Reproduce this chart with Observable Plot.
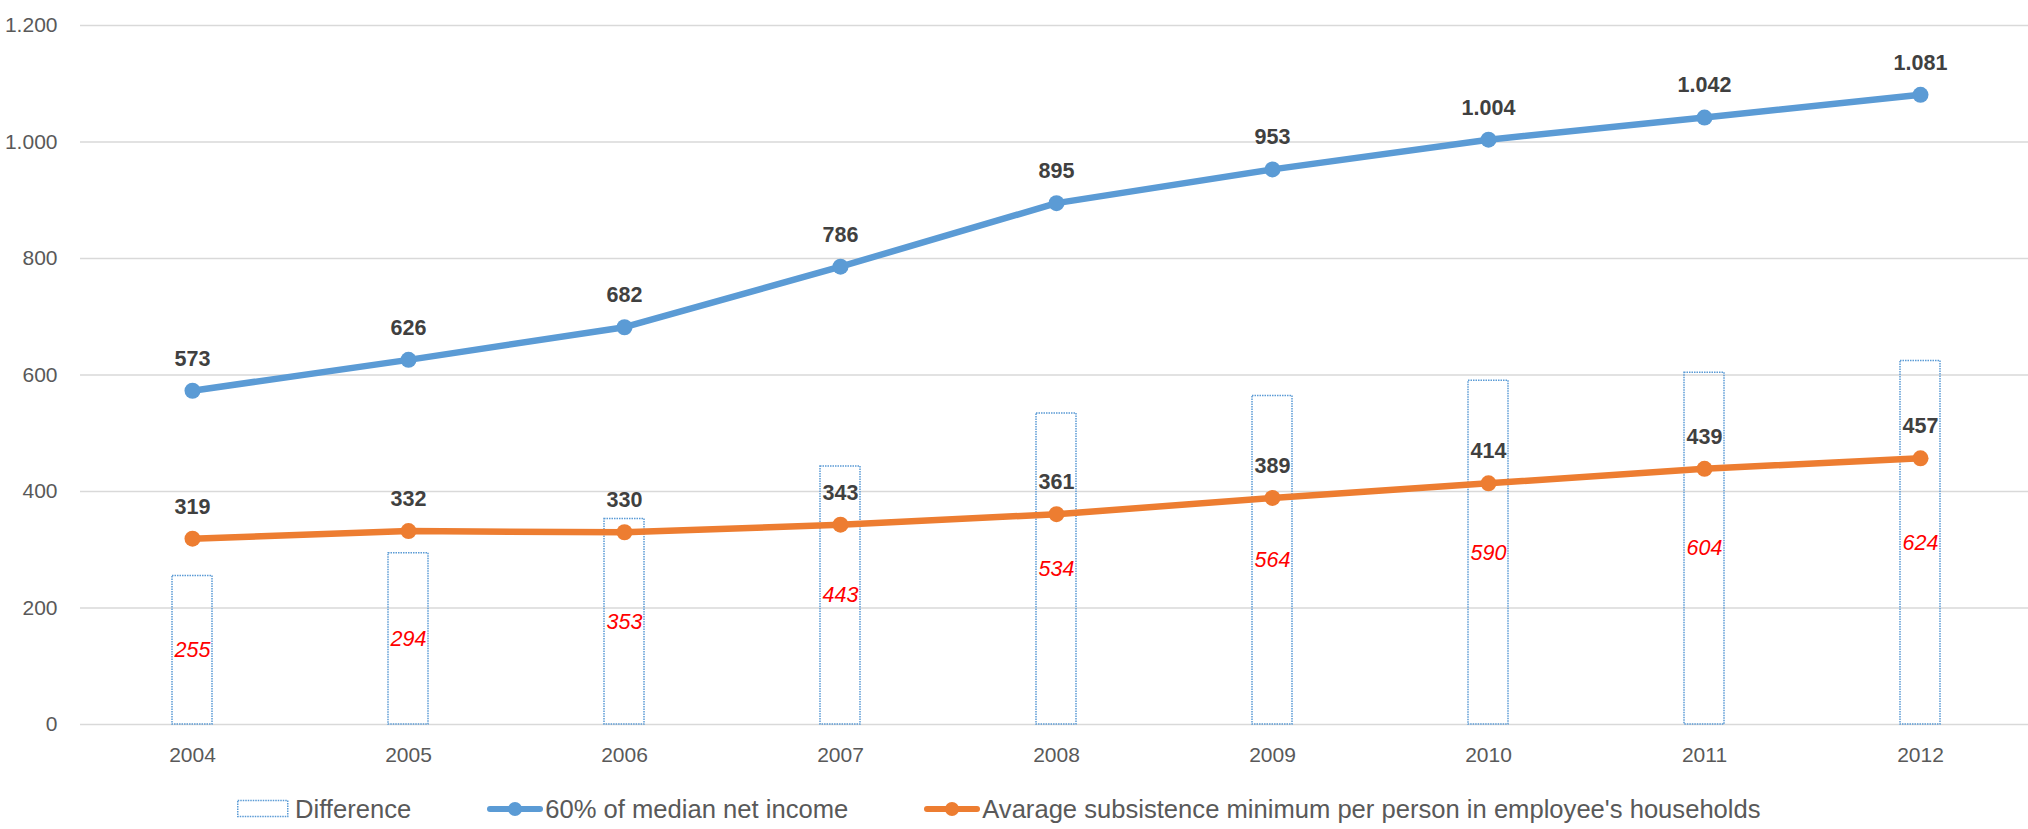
<!DOCTYPE html>
<html>
<head>
<meta charset="utf-8">
<script src="https://cdn.jsdelivr.net/npm/d3@7"></script>
<script src="https://cdn.jsdelivr.net/npm/@observablehq/plot@0.6"></script>
<style>
  html, body { margin: 0; padding: 0; background: #fff; overflow: hidden; }
  #chart svg { display: block; }
  .legend {
    height: 54px; box-sizing: border-box; padding: 14px 0 0 237px;
    display: flex; align-items: center; gap: 76px;
    font-family: "Liberation Sans", Arial, sans-serif; font-size: 25.6px; color: #595959;
  }
  .legend .item { display: flex; align-items: center; white-space: nowrap; }
  .legend svg { display: block; }
</style>
</head>
<body>
<div id="chart"></div>
<div class="legend" id="legend"></div>
<script>
// Monthly amounts per year
const years = ["2004", "2005", "2006", "2007", "2008", "2009", "2010", "2011", "2012"];
const medianIncome60 = [573, 626, 682, 786, 895, 953, 1004, 1042, 1081];
const subsistenceMin = [319, 332, 330, 343, 361, 389, 414, 439, 457];
const difference = [255, 294, 353, 443, 534, 564, 590, 604, 624];
const yTicks = [0, 200, 400, 600, 800, 1000, 1200];

const seriesNames = ["Difference", "60% of median net income", "Avarage subsistence minimum per person in employee's households"];
const blue = "#5B9BD5";
const orange = "#ED7D31";

const locale = d3.formatLocale({decimal: ",", thousands: ".", grouping: [3], currency: ["", ""]});
const fmt = locale.format(",d");

const rows = years.map((year, i) => ({
  year,
  income: medianIncome60[i],
  subsistence: subsistenceMin[i],
  diff: difference[i]
}));

const chart = Plot.plot({
  width: 2028,
  height: 775,
  marginTop: 25,
  marginBottom: 51,
  marginLeft: 80,
  marginRight: 0,
  style: {fontFamily: "'Liberation Sans', Arial, sans-serif", fontSize: "21px", color: "#595959", background: "#fff"},
  x: {type: "band", domain: years, range: [80, 2032], paddingInner: 0.8156, paddingOuter: 0.4078, label: null},
  y: {domain: [0, 1200], label: null},
  marks: [
    Plot.ruleY(yTicks, {stroke: "#D9D9D9", strokeWidth: 1.5}),
    Plot.axisY({ticks: yTicks, tickSize: 0, tickPadding: 23, tickFormat: fmt, fontSize: 21, label: null}),
    Plot.axisX({tickSize: 0, tickPadding: 23, fontSize: 21, label: null}),
    Plot.barY(rows, {x: "year", y: "diff", fill: "none", stroke: blue, strokeWidth: 1.5, strokeDasharray: "1.5,1"}),
    Plot.text(rows, {x: "year", y: d => d.diff / 2, text: d => fmt(d.diff), fill: "#FF0000", fontStyle: "italic", fontSize: 21.5, lineAnchor: "middle"}),
    Plot.line(rows, {x: "year", y: "income", stroke: blue, strokeWidth: 6.5, strokeLinejoin: "round"}),
    Plot.line(rows, {x: "year", y: "subsistence", stroke: orange, strokeWidth: 6.5, strokeLinejoin: "round"}),
    Plot.dot(rows, {x: "year", y: "income", r: 8, fill: blue}),
    Plot.dot(rows, {x: "year", y: "subsistence", r: 8, fill: orange}),
    Plot.text(rows, {x: "year", y: "income", text: d => fmt(d.income), dy: -32, lineAnchor: "middle", fill: "#404040", fontWeight: "bold", fontSize: 21.5}),
    Plot.text(rows, {x: "year", y: "subsistence", text: d => fmt(d.subsistence), dy: -32, lineAnchor: "middle", fill: "#404040", fontWeight: "bold", fontSize: 21.5})
  ]
});
document.getElementById("chart").append(chart);

// Legend below the plot
const legend = d3.select("#legend");
const barItem = legend.append("div").attr("class", "item");
const bs = barItem.append("svg").attr("width", 58).attr("height", 20);
bs.append("rect").attr("x", 0.75).attr("y", 1.5).attr("width", 50).attr("height", 16)
  .attr("fill", "none").attr("stroke", blue).attr("stroke-width", 1.5).attr("stroke-dasharray", "1.5,1");
barItem.append("span").text(seriesNames[0]);

[[blue, seriesNames[1]], [orange, seriesNames[2]]].forEach(([c, name]) => {
  const it = legend.append("div").attr("class", "item");
  const s = it.append("svg").attr("width", 58).attr("height", 20);
  s.append("line").attr("x1", 3).attr("x2", 53).attr("y1", 10).attr("y2", 10)
    .attr("stroke", c).attr("stroke-width", 6).attr("stroke-linecap", "round");
  s.append("circle").attr("cx", 28).attr("cy", 10).attr("r", 7).attr("fill", c);
  it.append("span").text(name);
});
</script>
</body>
</html>
